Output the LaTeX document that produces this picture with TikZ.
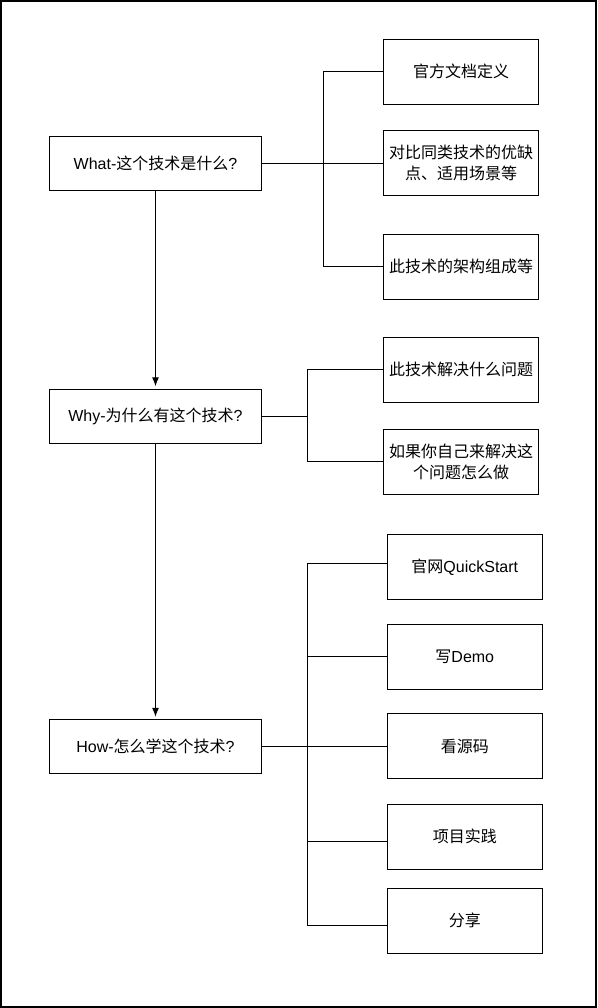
\documentclass[tikz,border=0pt]{standalone}
\usepackage{fontspec}
\setmainfont{Noto Sans CJK SC}
\newfontfamily\lat{Liberation Sans}
\usetikzlibrary{arrows.meta}
\tikzset{
	hauptbox/.style={draw, line width=1pt, minimum width=212pt, minimum height=54pt, inner sep=0pt, font=\fontsize{16}{21}\selectfont},
	teilbox/.style={draw, line width=1pt, minimum width=155pt, minimum height=65pt, inner sep=0pt, align=center, font=\fontsize{16}{21}\selectfont},
	linie/.style={line width=1pt}
}
\begin{document}
\begin{tikzpicture}[x=1pt, y=-1pt]
	\useasboundingbox (0,0) rectangle (597,1008);
	\draw[line width=1.5pt] (1,1) rectangle (596,1007);%Rahmen

	%Hauptkaesten links
	\node[hauptbox] (what) at (155.5,163.3) {{\lat What-}这个技术是什么{\lat ?}};
	\node[hauptbox] (why) at (155.5,416.3) {{\lat Why-}为什么有这个技术{\lat ?}};
	\node[hauptbox] (how) at (155.5,746.3) {{\lat How-}怎么学这个技术{\lat ?}};

	%What rechts
	\node[teilbox] (def) at (461,71.8) {官方文档定义};
	\node[teilbox] (cmp) at (461,163.3) {对比同类技术的优缺\\点、适用场景等};
	\node[teilbox] (arch) at (461,266.6) {此技术的架构组成等};

	%Why rechts
	\node[teilbox] (prob) at (461,369.8) {此技术解决什么问题};
	\node[teilbox] (self) at (461,461.5) {如果你自己来解决这\\个问题怎么做};

	%How rechts
	\node[teilbox] (qs) at (464.8,566.8) {官网{\lat QuickStart}};
	\node[teilbox] (demo) at (464.8,656.8) {写{\lat Demo}};
	\node[teilbox] (src) at (464.8,746.3) {看源码};
	\node[teilbox] (prac) at (464.8,836.8) {项目实践};
	\node[teilbox] (share) at (464.8,920.8) {分享};

	%Pfeile vertikal
	\draw[linie, -{Latex[length=9pt,width=7pt]}] (what.south) -- ([yshift=2.5pt]why.north);
	\draw[linie, -{Latex[length=9pt,width=7pt]}] (why.south) -- ([yshift=2pt]how.north);

	%Verzweigungen
	\coordinate (whatbus) at (323.3,163.3);
	\draw[linie] (what.east) -- (cmp.west);
	\draw[linie] (whatbus) |- (def.west);
	\draw[linie] (whatbus) |- (arch.west);

	\coordinate (whybus) at (307.3,416.3);
	\draw[linie] (why.east) -- (whybus);
	\draw[linie] (whybus) |- (prob.west);
	\draw[linie] (whybus) |- (self.west);

	\coordinate (howbus) at (307.3,746.3);
	\draw[linie] (how.east) -- (src.west);
	\draw[linie] (howbus) |- ([yshift=3.5pt]qs.west);
	\draw[linie] (howbus) |- (demo.west);
	\draw[linie] (howbus) |- ([yshift=-4.5pt]prac.west);
	\draw[linie] (howbus) |- ([yshift=-4.5pt]share.west);
\end{tikzpicture}
\end{document}
